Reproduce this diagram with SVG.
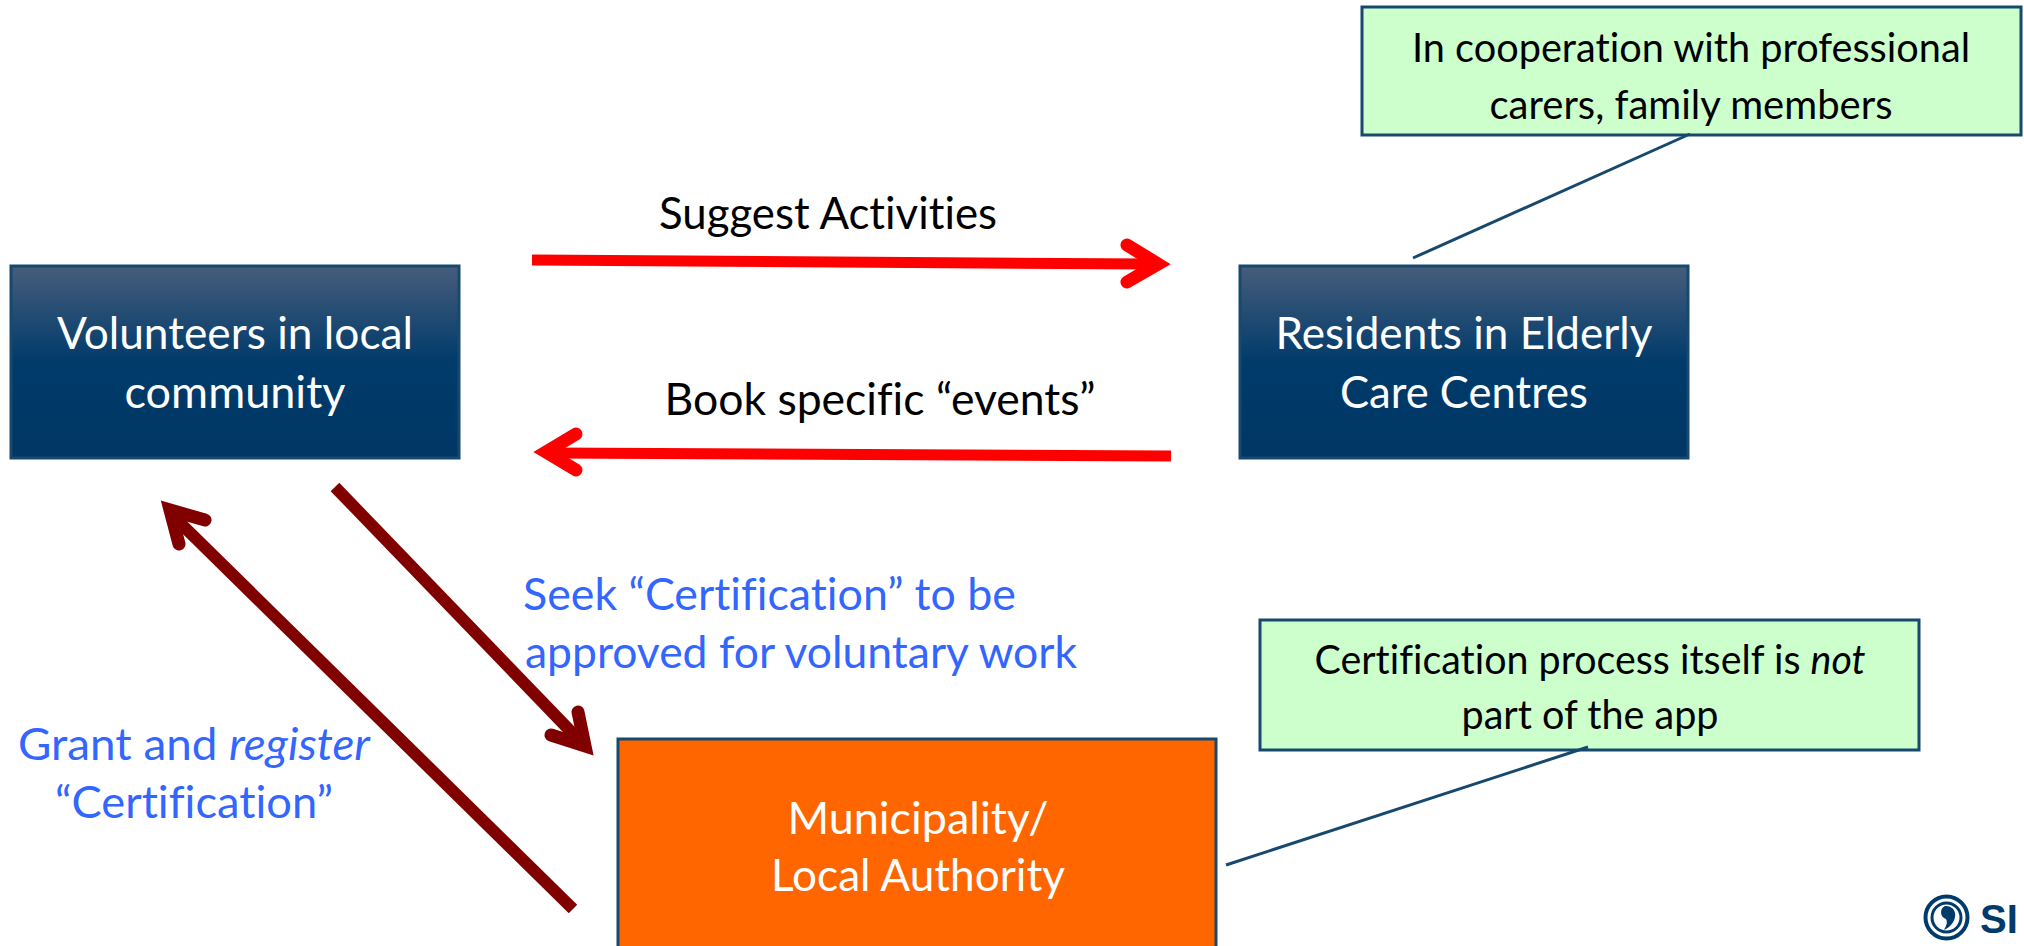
<svg xmlns="http://www.w3.org/2000/svg" width="2024" height="946" viewBox="0 0 2024 946">
<style>
text{font-family:Lato,"Open Sans",sans-serif;text-anchor:middle;font-variant-ligatures:none}
.n{fill:url(#navy);stroke:#17496f;stroke-width:3}
.g{fill:#ccffcc;stroke:#17496f;stroke-width:3}
.w{fill:#fff;font-size:44px}
.k{fill:#000;font-size:41px}
.b{fill:#3366ff;font-size:44px}
.l{fill:#000;font-size:44px}
.red{stroke:#ff0000;stroke-width:11;fill:none}
.dr{stroke:#800000;stroke-width:12;fill:none}
.hr{stroke:#ff0000;stroke-width:13;fill:none;stroke-linecap:round;stroke-linejoin:miter}
.hd{stroke:#800000;stroke-width:13;fill:none;stroke-linecap:round;stroke-linejoin:miter}
.c{stroke:#17496f;stroke-width:3;fill:none}
</style>
<defs>
<linearGradient id="navy" x1="0" y1="0" x2="0" y2="1">
<stop offset="0" stop-color="#475d7b"/><stop offset="0.5" stop-color="#003b6b"/><stop offset="1" stop-color="#003764"/>
</linearGradient>
</defs>
<g id="volunteers">
<rect class="n" x="11" y="266" width="448" height="192"/>
<text class="w" x="235" y="349" textLength="356" lengthAdjust="spacingAndGlyphs">Volunteers in local</text>
<text class="w" x="235" y="408" textLength="221" lengthAdjust="spacingAndGlyphs">community</text>
</g>
<g id="residents">
<rect class="n" x="1240" y="266" width="448" height="192"/>
<text class="w" x="1464" y="349" textLength="377" lengthAdjust="spacingAndGlyphs">Residents in Elderly</text>
<text class="w" x="1464" y="408" textLength="248" lengthAdjust="spacingAndGlyphs">Care Centres</text>
</g>
<g id="municipality">
<rect x="618" y="739" width="598" height="230" fill="#ff6600" stroke="#17496f" stroke-width="3"/>
<text class="w" x="918" y="834" textLength="261" lengthAdjust="spacingAndGlyphs">Municipality/</text>
<text class="w" x="918" y="891" textLength="294" lengthAdjust="spacingAndGlyphs">Local Authority</text>
</g>
<g id="note-carers">
<rect class="g" x="1362" y="7" width="659" height="128"/>
<text class="k" x="1691" y="62" textLength="558" lengthAdjust="spacingAndGlyphs">In cooperation with professional</text>
<text class="k" x="1691" y="119" textLength="403" lengthAdjust="spacingAndGlyphs">carers, family members</text>
</g>
<g id="note-certification">
<rect class="g" x="1260" y="620" width="659" height="130"/>
<text class="k" x="1590" y="674" textLength="551" lengthAdjust="spacingAndGlyphs">Certification process itself is <tspan font-style="italic">not</tspan></text>
<text class="k" x="1590" y="729" textLength="257" lengthAdjust="spacingAndGlyphs">part of the app</text>
</g>
<g id="connectors">
<path class="red" d="M532 260L1150 264"/>
<path class="hr" d="M1127 245L1158 264L1127 282"/>
<path class="red" d="M1171 456L550 453"/>
<path class="hr" d="M576 434L546 452L576 470"/>
<path class="dr" d="M335 487L580 741"/>
<path class="hd" d="M578 712L585 746L551 735"/>
<path class="dr" d="M573 909L171 514"/>
<path class="hd" d="M205 520L170 510L179 544"/>
<path class="c" d="M1413 258L1690 134"/>
<path class="c" d="M1226 865L1588 747"/>
</g>
<g id="labels">
<text class="l" x="828" y="229" textLength="338" lengthAdjust="spacingAndGlyphs">Suggest Activities</text>
<text class="l" x="880" y="415" textLength="431" lengthAdjust="spacingAndGlyphs">Book specific “events”</text>
<text class="b" x="523" y="610" textLength="493" lengthAdjust="spacingAndGlyphs" style="text-anchor:start">Seek “Certification” to be</text>
<text class="b" x="525" y="668" textLength="552" lengthAdjust="spacingAndGlyphs" style="text-anchor:start">approved for voluntary work</text>
<text class="b" x="194" y="760" textLength="352" lengthAdjust="spacingAndGlyphs">Grant and <tspan font-style="italic">register</tspan></text>
<text class="b" x="194" y="818" textLength="278" lengthAdjust="spacingAndGlyphs">“Certification”</text>
</g>
<g id="logo">
<circle cx="1946.5" cy="917.5" r="21" fill="none" stroke="#003b6b" stroke-width="4"/>
<circle cx="1946.5" cy="917.5" r="14.5" fill="none" stroke="#003b6b" stroke-width="3"/>
<path d="M1945 906a9 9 0 0 1 10 11c-1 6-6 11-11 13c2-4 4-7 2-11a7 7 0 0 1-1-13z" fill="#003b6b"/>
<text x="1980" y="933" style="text-anchor:start;font-family:'Liberation Sans',sans-serif;font-weight:bold;font-size:40px" fill="#003b6b">SI</text>
</g>
</svg>
